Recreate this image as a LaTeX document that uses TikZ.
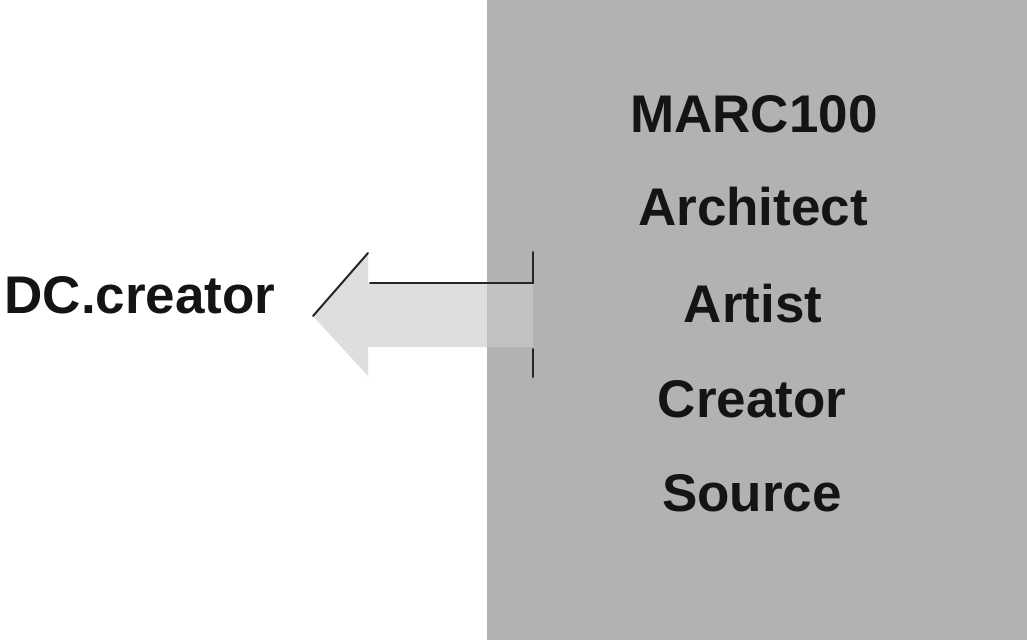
\documentclass[tikz,border=0pt]{standalone}
\usepackage{fontspec}
\setmainfont{Liberation Sans}
\begin{document}
\begin{tikzpicture}[x=1pt,y=-1pt,
  term/.style={font=\fontsize{53}{60}\selectfont\bfseries, inner sep=0pt, anchor=base, text=black!92},
  rule/.style={draw=black!85, line width=2pt, line cap=round},
  panel/.style={fill=black!30},
  arrowbody/.style={fill=black!13},
  arrowinner/.style={fill=black!24}
]
\useasboundingbox (0,0) rectangle (1027,640);
\fill[white] (0,0) rectangle (1027,640);

% shaded panel of source fields
\fill[panel] (487,0) rectangle (1027,640);

% corner points of the mapping arrow
\coordinate (tip)     at (313,316);
\coordinate (headtop) at (368,253);
\coordinate (headbot) at (368,376);
\coordinate (shaftL)  at (370,283);
\coordinate (shaftLb) at (368,347);
\coordinate (shaftR)  at (533,283);
\coordinate (shaftRb) at (487,347);
\coordinate (edgeT)   at (487,283);
\coordinate (notchT)  at (533,252);
\coordinate (notchB1) at (533,349);
\coordinate (notchB2) at (533,377);

% light arrow body pointing left, fainter where it enters the panel
\fill[arrowbody] (tip) -- (headtop) -- (368,283) -- (edgeT) -- (shaftRb) -- (shaftLb) -- (headbot) -- cycle;
\fill[arrowinner] (edgeT) rectangle (533,347);

% outline strokes
\draw[rule] (tip) -- (headtop);
\draw[rule] (shaftL) -- (shaftR) -- (notchT);
\draw[rule] (notchB1) -- (notchB2);

% labels
\node[term] (dc)      at (140,313) {DC.creator};
\node[term] (marc)    at (754,132) {MARC100};
\node[term] (arch)    at (753,225) {Architect};
\node[term] (artist)  at (753,322) {Artist};
\node[term] (creator) at (752,417) {Creator};
\node[term] (source)  at (752,511) {Source};
\end{tikzpicture}
\end{document}
